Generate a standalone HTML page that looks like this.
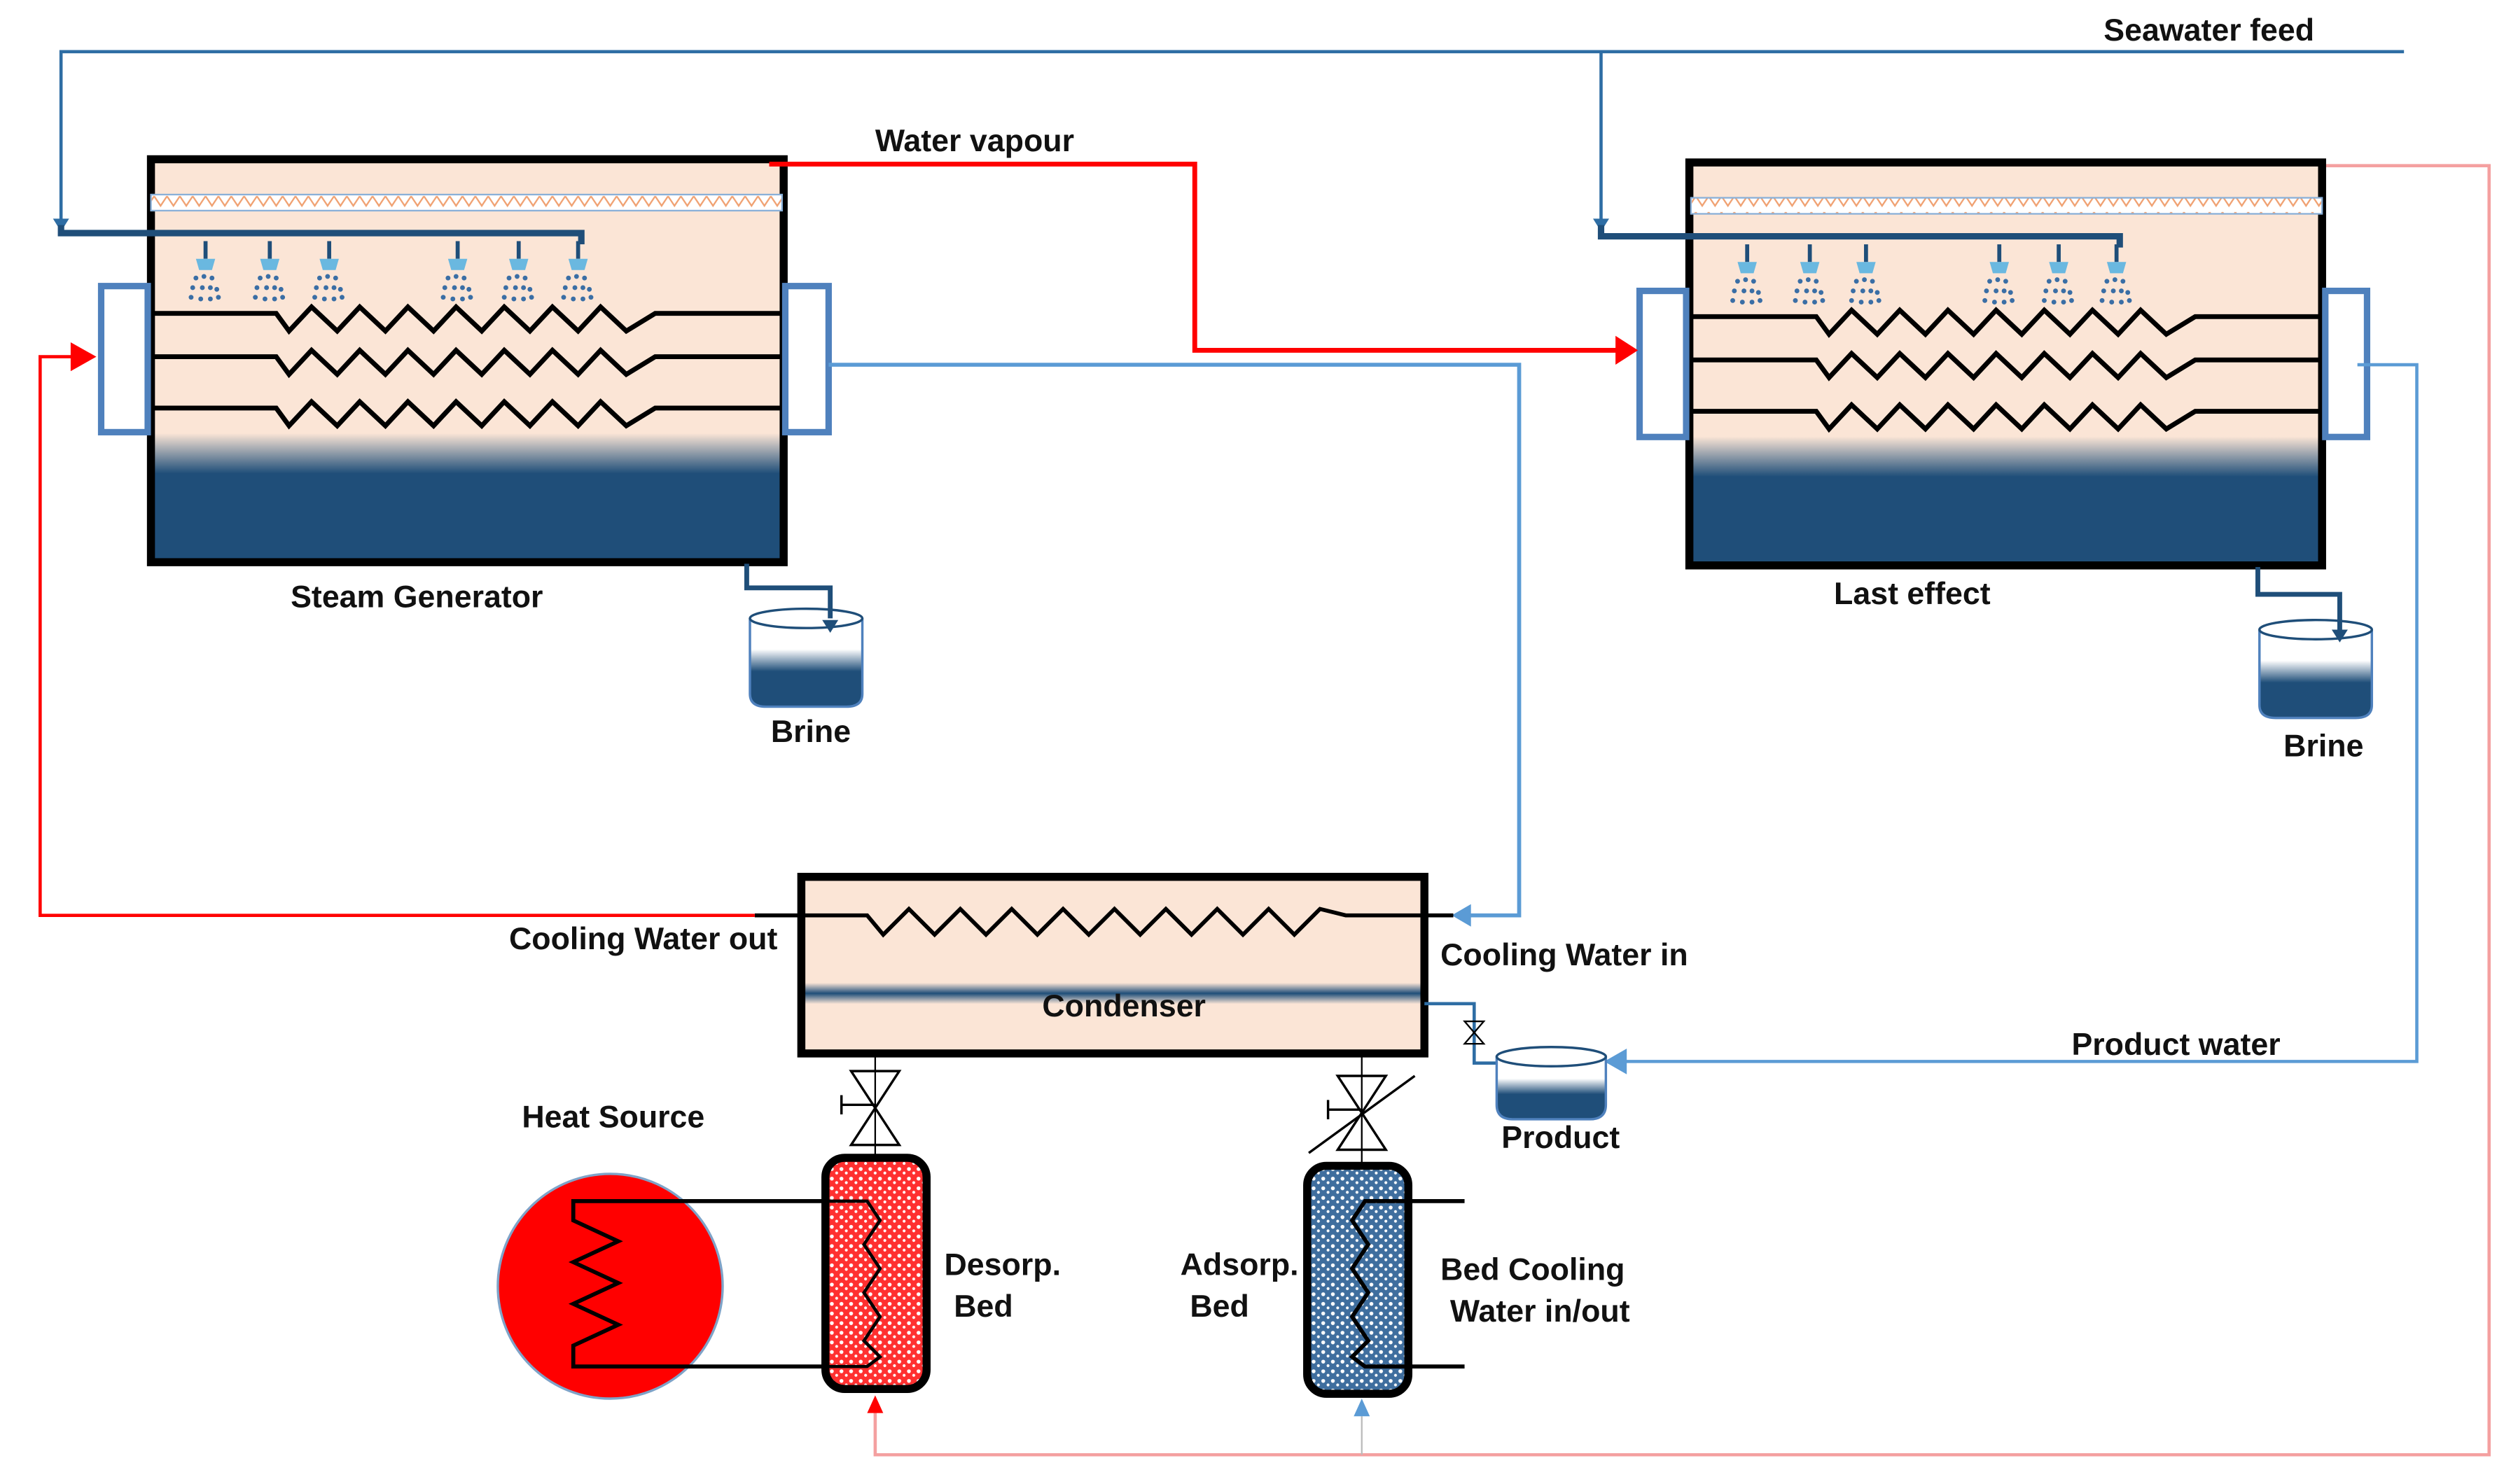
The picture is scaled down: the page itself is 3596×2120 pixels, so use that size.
<!DOCTYPE html>
<html><head><meta charset="utf-8"><style>
html,body{margin:0;padding:0;background:#fff}
svg{display:block}
text{font-family:"Liberation Sans",Arial,sans-serif;font-weight:bold;font-size:19.5px;fill:#111}
</style></head><body>
<svg width="3596" height="2120" viewBox="0 0 1568 924" xmlns="http://www.w3.org/2000/svg">
<defs>
<linearGradient id="tank" x1="0" y1="0" x2="0" y2="1">
<stop offset="0" stop-color="#fbe5d6"/><stop offset="0.68" stop-color="#fbe5d6"/><stop offset="0.78" stop-color="#1f4e79"/><stop offset="1" stop-color="#1f4e79"/>
</linearGradient>
<linearGradient id="cond" x1="0" y1="0" x2="0" y2="1">
<stop offset="0" stop-color="#fbe5d6"/><stop offset="0.6" stop-color="#fbe5d6"/><stop offset="0.66" stop-color="#1f4e79"/><stop offset="0.72" stop-color="#fbe5d6"/><stop offset="1" stop-color="#fbe5d6"/>
</linearGradient>
<linearGradient id="pot" x1="0" y1="0" x2="0" y2="1">
<stop offset="0" stop-color="#fff"/><stop offset="0.35" stop-color="#fff"/><stop offset="0.6" stop-color="#1f4e79"/><stop offset="1" stop-color="#1f4e79"/>
</linearGradient>
<pattern id="dotsR" width="6" height="6" patternUnits="userSpaceOnUse"><rect width="6" height="6" fill="#ff3030"/><circle cx="2" cy="2" r="1.2" fill="#fff"/><circle cx="5" cy="4.5" r="0.9" fill="#fff"/></pattern>
<pattern id="dotsB" width="6" height="6" patternUnits="userSpaceOnUse"><rect width="6" height="6" fill="#3f6e9e"/><circle cx="2" cy="2" r="1.2" fill="#fff"/><circle cx="5" cy="4.5" r="0.9" fill="#fff"/></pattern>
<pattern id="mesh" width="8" height="10" patternUnits="userSpaceOnUse"><rect width="8" height="10" fill="#fff"/><path d="M0 2 L4 8 L8 2" stroke="#f0a070" fill="none" stroke-width="1"/></pattern>
<g id="spray"><line x1="0" y1="-8" x2="0" y2="3" stroke="#1f4e79" stroke-width="2.5"/><path d="M-6 3 h12 l-2 7 h-8z" fill="#6ab8e0"/>
<g fill="#3a6ea5"><circle cx="-6" cy="15" r="1.5"/><circle cx="-1" cy="14" r="1.5"/><circle cx="4" cy="15" r="1.5"/><circle cx="-8" cy="21" r="1.5"/><circle cx="-2" cy="21" r="1.5"/><circle cx="3" cy="21" r="1.5"/><circle cx="7" cy="22" r="1.5"/><circle cx="-9" cy="27" r="1.5"/><circle cx="-3" cy="28" r="1.5"/><circle cx="3" cy="28" r="1.5"/><circle cx="8" cy="27" r="1.5"/></g></g>
</defs>

<polyline points="1497,32 38,32 38,140" fill="none" stroke="#2e6da4" stroke-width="2"/>
<line x1="997" y1="32" x2="997" y2="140" stroke="#2e6da4" stroke-width="2"/>
<path d="M33,136 h10 l-5,8z M992,136 h10 l-5,8z" fill="#2e6da4"/>
<text x="1310" y="25">Seawater feed</text>

<polyline points="1447,103 1550,103 1550,906 545,906 545,880" fill="none" stroke="#f4a0a0" stroke-width="2"/>
<line x1="848" y1="906" x2="848" y2="882" stroke="#bbb" stroke-width="1"/>
<path d="M540,880 h10 l-5,-11z" fill="#ff0000"/>
<path d="M843,882 h10 l-5,-11z" fill="#5b9bd5"/>

<rect x="94" y="99" width="394" height="251" fill="url(#tank)" stroke="#000" stroke-width="5"/>
<rect x="94" y="121" width="393" height="10" fill="url(#mesh)" stroke="#8ab0d8" stroke-width="1"/>
<polyline points="38,140 38,145 362,145 362,152" fill="none" stroke="#1f4e79" stroke-width="4"/>
<use href="#spray" x="128" y="158"/><use href="#spray" x="168" y="158"/><use href="#spray" x="205" y="158"/>
<use href="#spray" x="285" y="158"/><use href="#spray" x="323" y="158"/><use href="#spray" x="360" y="158"/>
<g fill="none" stroke="#000" stroke-width="3">
<polyline points="94,195 172,195 180,206 194,191 210,206 224,191 240,206 254,191 270,206 284,191 300,206 314,191 330,206 344,191 360,206 374,191 390,206 408,195 487,195"/>
<polyline points="94,222 172,222 180,233 194,218 210,233 224,218 240,233 254,218 270,233 284,218 300,233 314,218 330,233 344,218 360,233 374,218 390,233 408,222 487,222"/>
<polyline points="94,254 172,254 180,265 194,250 210,265 224,250 240,265 254,250 270,265 284,250 300,265 314,250 330,265 344,250 360,265 374,250 390,265 408,254 487,254"/>
</g>
<rect x="63" y="178" width="29" height="91" fill="#fff" stroke="#4f81bd" stroke-width="4"/>
<rect x="489" y="178" width="27" height="91" fill="#fff" stroke="#4f81bd" stroke-width="4"/>
<text x="181" y="378">Steam Generator</text>

<rect x="1052" y="101" width="394" height="251" fill="url(#tank)" stroke="#000" stroke-width="5"/>
<rect x="1053" y="123" width="393" height="10" fill="url(#mesh)" stroke="#8ab0d8" stroke-width="1"/>
<polyline points="997,140 997,147 1320,147 1320,154" fill="none" stroke="#1f4e79" stroke-width="4"/>
<use href="#spray" x="1088" y="160"/><use href="#spray" x="1127" y="160"/><use href="#spray" x="1162" y="160"/>
<use href="#spray" x="1245" y="160"/><use href="#spray" x="1282" y="160"/><use href="#spray" x="1318" y="160"/>
<g fill="none" stroke="#000" stroke-width="3">
<polyline points="1053,197 1131,197 1139,208 1153,193 1169,208 1183,193 1199,208 1213,193 1229,208 1243,193 1259,208 1273,193 1289,208 1303,193 1319,208 1333,193 1349,208 1367,197 1446,197"/>
<polyline points="1053,224 1131,224 1139,235 1153,220 1169,235 1183,220 1199,235 1213,220 1229,235 1243,220 1259,235 1273,220 1289,235 1303,220 1319,235 1333,220 1349,235 1367,224 1446,224"/>
<polyline points="1053,256 1131,256 1139,267 1153,252 1169,267 1183,252 1199,267 1213,252 1229,267 1243,252 1259,267 1273,252 1289,267 1303,252 1319,267 1333,252 1349,267 1367,256 1446,256"/>
</g>
<rect x="1021" y="181" width="29" height="91" fill="#fff" stroke="#4f81bd" stroke-width="4"/>
<rect x="1448" y="181" width="26" height="91" fill="#fff" stroke="#4f81bd" stroke-width="4"/>
<text x="1142" y="376">Last effect</text>

<polyline points="479,102 744,102 744,218 1008,218" fill="none" stroke="#ff0000" stroke-width="3"/>
<path d="M1006,209 l14,9 l-14,9z" fill="#ff0000"/>
<text x="545" y="94">Water vapour</text>

<polyline points="516,227 946,227 946,570 914,570" fill="none" stroke="#5b9bd5" stroke-width="2.5"/>
<path d="M916,563 l-12,7 l12,7z" fill="#5b9bd5"/>
<polyline points="1468,227 1505,227 1505,661 1010,661" fill="none" stroke="#5b9bd5" stroke-width="2"/>
<path d="M1013,653 l-14,8 l14,8z" fill="#5b9bd5"/>
<text x="1290" y="657">Product water</text>

<polyline points="465,351 465,366 517,366 517,388" fill="none" stroke="#1f4e79" stroke-width="3"/>
<path d="M467,385 v47 q0,8 10,8 h50 q10,0 10,-8 v-47" fill="url(#pot)" stroke="#4f81bd" stroke-width="1.5"/>
<ellipse cx="502" cy="385" rx="35" ry="6" fill="none" stroke="#1f4e79" stroke-width="1.5"/>
<path d="M512,386 h10 l-5,8z" fill="#1f4e79"/>
<text x="480" y="462">Brine</text>
<polyline points="1406,353 1406,370 1457,370 1457,394" fill="none" stroke="#1f4e79" stroke-width="3"/>
<path d="M1407,392 v47 q0,8 10,8 h50 q10,0 10,-8 v-47" fill="url(#pot)" stroke="#4f81bd" stroke-width="1.5"/>
<ellipse cx="1442" cy="392" rx="35" ry="6" fill="none" stroke="#1f4e79" stroke-width="1.5"/>
<path d="M1452,392 h10 l-5,8z" fill="#1f4e79"/>
<text x="1422" y="471">Brine</text>

<rect x="499" y="546" width="388" height="110" fill="url(#cond)" stroke="#000" stroke-width="5"/>
<polyline points="470,570 540,570 550,582 566,566 582,582 598,566 614,582 630,566 646,582 662,566 678,582 694,566 710,582 726,566 742,582 758,566 774,582 790,566 806,582 822,566 838,570 905,570" fill="none" stroke="#000" stroke-width="2.5"/>
<polyline points="470,570 25,570 25,222 48,222" fill="none" stroke="#ff0000" stroke-width="2"/>
<path d="M44,213 l16,9 l-16,9z" fill="#ff0000"/>
<text x="317" y="591">Cooling Water out</text>
<text x="897" y="601">Cooling Water in</text>
<text x="649" y="633">Condenser</text>

<polyline points="887,625 918,625 918,662 938,662" fill="none" stroke="#2e6da4" stroke-width="2"/>
<path d="M912,636 l12,0 l-12,14 l12,0z" fill="none" stroke="#000" stroke-width="1"/>
<path d="M932,658 v30 q0,9 10,9 h48 q10,0 10,-9 v-30" fill="url(#pot)" stroke="#4f81bd" stroke-width="1.5"/>
<ellipse cx="966" cy="658" rx="34" ry="6" fill="none" stroke="#1f4e79" stroke-width="1.5"/>
<text x="935" y="715">Product</text>

<line x1="545" y1="657" x2="545" y2="722" stroke="#000" stroke-width="1"/>
<path d="M530,667 h30 l-30,46 h30z" fill="none" stroke="#000" stroke-width="1.5"/>
<path d="M524,682 v12 M524,688 h21" stroke="#000" stroke-width="1.5"/>
<line x1="848" y1="657" x2="848" y2="726" stroke="#000" stroke-width="1"/>
<path d="M833,670 h30 l-30,46 h30z" fill="none" stroke="#000" stroke-width="1.5"/>
<path d="M827,685 v12 M827,691 h21" stroke="#000" stroke-width="1.5"/>
<line x1="815" y1="718" x2="881" y2="670" stroke="#000" stroke-width="1.5"/>

<text x="325" y="702">Heat Source</text>
<circle cx="380" cy="801" r="70" fill="#ff0000" stroke="#7fa3c8" stroke-width="1.5"/>
<polyline points="512,748 357,748 357,760 385,773 357,786 385,799 357,812 385,825 357,838 357,851 512,851" fill="none" stroke="#000" stroke-width="2.5"/>

<rect x="514" y="721" width="63" height="144" rx="12" fill="url(#dotsR)" stroke="#000" stroke-width="5"/>
<polyline points="512,748 540,748 548,760 538,775 548,790 538,805 548,820 538,835 548,845 540,851 512,851" fill="none" stroke="#000" stroke-width="2"/>
<text x="588" y="794">Desorp.</text>
<text x="594" y="820">Bed</text>

<rect x="814" y="726" width="63" height="142" rx="12" fill="url(#dotsB)" stroke="#000" stroke-width="5"/>
<polyline points="912,748 850,748 842,760 852,775 842,790 852,805 842,820 852,835 842,845 850,851 912,851" fill="none" stroke="#000" stroke-width="2.5"/>
<text x="735" y="794">Adsorp.</text>
<text x="741" y="820">Bed</text>
<text x="897" y="797">Bed Cooling</text>
<text x="903" y="823">Water in/out</text>
</svg>
</body></html>
